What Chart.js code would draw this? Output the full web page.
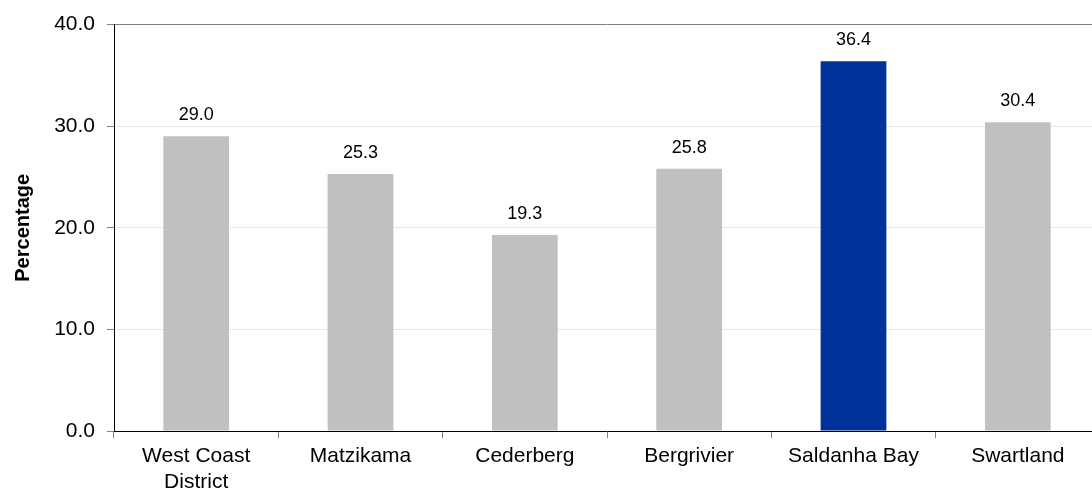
<!DOCTYPE html>
<html>
<head>
<meta charset="utf-8">
<script src="https://cdn.jsdelivr.net/npm/chart.js@4/dist/chart.umd.min.js"></script>
<style>
  html, body { margin: 0; padding: 0; background: #fff; overflow: hidden; }
  #wrap { width: 1100px; height: 489px; }
</style>
</head>
<body>
<div id="wrap"><canvas id="chart"></canvas></div>
<script>
const categories = [["West Coast", "District"], "Matzikama", "Cederberg", "Bergrivier", "Saldanha Bay", "Swartland"];
const values = [29.0, 25.3, 19.3, 25.8, 36.4, 30.4];
const barColors = ["#c0c0c0", "#c0c0c0", "#c0c0c0", "#c0c0c0", "#003399", "#c0c0c0"];
const yTicks = [0, 10, 20, 30, 40];

// value labels drawn above each bar
const valueLabels = {
  id: "valueLabels",
  afterDatasetsDraw(chart) {
    const ctx = chart.ctx;
    const meta = chart.getDatasetMeta(0);
    ctx.save();
    ctx.font = "18px 'Liberation Sans', Arial, sans-serif";
    ctx.fillStyle = "#000";
    ctx.textAlign = "center";
    ctx.textBaseline = "middle";
    meta.data.forEach(function (bar, i) {
      ctx.fillText(values[i].toFixed(1), bar.x, bar.y - 21);
    });
    ctx.restore();
  }
};

new Chart(document.getElementById("chart"), {
  type: "bar",
  data: {
    labels: categories,
    datasets: [{
      data: values,
      backgroundColor: barColors,
      barPercentage: 0.4,
      categoryPercentage: 1
    }]
  },
  plugins: [valueLabels],
  options: {
    responsive: true,
    maintainAspectRatio: false,
    animation: false,
    layout: { padding: { top: 24, right: 0, left: 0, bottom: 0 } },
    plugins: { legend: { display: false }, tooltip: { enabled: false } },
    scales: {
      x: {
        grid: { drawOnChartArea: false, drawTicks: true, tickLength: 7, tickColor: "#808080", offset: true },
        border: { color: "#000", width: 1 },
        ticks: {
          color: "#000",
          padding: 6,
          maxRotation: 0,
          font: { family: "'Liberation Sans', Arial, sans-serif", size: 21 }
        },
        afterFit(scale) { scale.height = 58; }
      },
      y: {
        min: 0,
        max: 40,
        afterBuildTicks(scale) { scale.ticks = yTicks.map(v => ({ value: v })); },
        grid: {
          color: ctx => (ctx.tick && ctx.tick.value === 40 ? "#808080" : "#e6e6e6"),
          tickColor: "#808080",
          tickLength: 7
        },
        border: { color: "#000", width: 1 },
        ticks: {
          color: "#000",
          padding: 12,
          callback: v => v.toFixed(1),
          font: { family: "'Liberation Sans', Arial, sans-serif", size: 21 }
        },
        title: {
          display: true,
          text: "Percentage",
          color: "#000",
          padding: { top: 11, bottom: 4 },
          font: { family: "'Liberation Sans', Arial, sans-serif", size: 20, weight: "bold" }
        },
        afterFit(scale) { scale.width = 114; }
      }
    }
  }
});
</script>
</body>
</html>
